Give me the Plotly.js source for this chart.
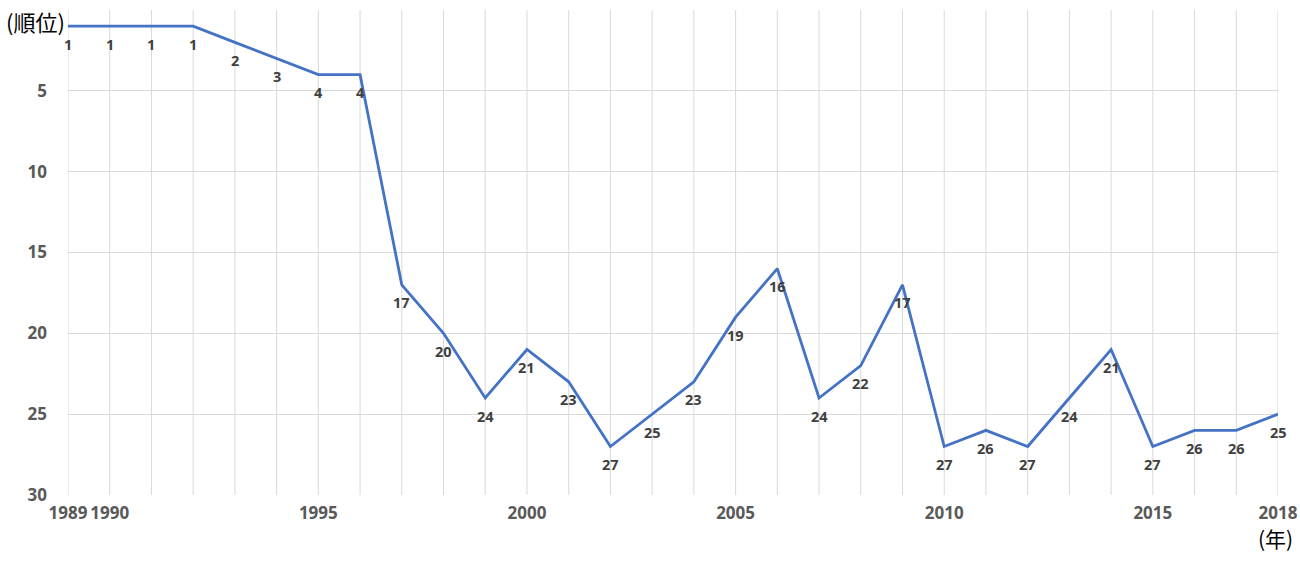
<!DOCTYPE html>
<html>
<head>
<meta charset="utf-8">
<script src="https://cdn.plot.ly/plotly-3.0.1.min.js"></script>
<style>html,body{margin:0;padding:0;background:#fff;}#chart{width:1300px;height:570px;}</style>
</head>
<body>
<div id="chart"></div>
<script>
const years = [1989,1990,1991,1992,1993,1994,1995,1996,1997,1998,1999,2000,2001,2002,2003,2004,2005,2006,2007,2008,2009,2010,2011,2012,2013,2014,2015,2016,2017,2018];
const ranks = [1,1,1,1,2,3,4,4,17,20,24,21,23,27,25,23,19,16,24,22,17,27,26,27,24,21,27,26,26,25];
const xTickVals = [1989,1990,1995,2000,2005,2010,2015,2018];
const xTickText = ['1989','1990','1995','2000','2005','2010','2015','2018'];
const yTickVals = [0,5,10,15,20,25,30];
const yTickText = ['','5','10','15','20','25','30'];

const cjk = '"Noto Sans CJK JP", sans-serif';
const num = '"Open Sans", "Noto Sans", sans-serif';

const trace = {
  x: years, y: ranks, mode: 'lines', type: 'scatter',
  line: {color: '#4472C4', width: 2.8},
  hoverinfo: 'none'
};

const vgrid = years.map(y => ({type:'line', xref:'x', yref:'paper', x0:y, x1:y, y0:0, y1:1, line:{color:'#d9d9d9', width:1}, layer:'below'}));

const labels = years.map((yr, i) => ({
  x: yr, y: ranks[i], xref: 'x', yref: 'y', text: String(ranks[i]), showarrow: false,
  xanchor: 'center', yanchor: 'middle', yshift: -18,
  font: {family: num, size: 14.5, color: '#404040', weight: 'bold'}
}));

const layout = {
  width: 1300, height: 570,
  margin: {l: 68, r: 22, t: 10, b: 75},
  paper_bgcolor: '#fff', plot_bgcolor: '#fff',
  showlegend: false,
  xaxis: {
    range: [1989, 2018], tickmode: 'array', tickvals: xTickVals, ticktext: xTickText,
    showgrid: false, zeroline: false, showline: false, ticks: '',
    ticklabelstandoff: 6,
    tickfont: {family: num, size: 17, color: '#595959', weight: 'bold'}
  },
  yaxis: {
    range: [30, 0], tickmode: 'array', tickvals: yTickVals, ticktext: yTickText,
    showgrid: true, gridcolor: '#d9d9d9', gridwidth: 1, zeroline: false, showline: false, ticks: '',
    ticklabelstandoff: 20,
    tickfont: {family: num, size: 17, color: '#595959', weight: 'bold'}
  },
  shapes: vgrid,
  annotations: labels.concat([
    {text: '(順位)', xref: 'paper', yref: 'paper', x: 0, y: 1.0, xanchor: 'right', yanchor: 'middle', xshift: -1, yshift: -11, showarrow: false,
     font: {family: cjk, size: 22, color: '#000'}},
    {text: '(年)', xref: 'paper', yref: 'paper', x: 1.0, y: 0, xanchor: 'center', yanchor: 'middle', xshift: -3, yshift: -43, showarrow: false,
     font: {family: cjk, size: 21, color: '#000'}}
  ])
};

Plotly.newPlot('chart', [trace], layout, {displayModeBar: false, staticPlot: true});
</script>
</body>
</html>
